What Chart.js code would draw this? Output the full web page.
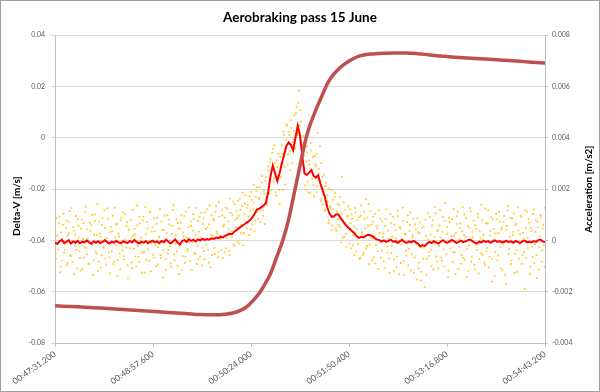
<!DOCTYPE html>
<html>
<head>
<meta charset="utf-8">
<script src="https://cdn.jsdelivr.net/npm/chart.js@4.4.1/dist/chart.umd.min.js"></script>
<style>
  html, body { margin: 0; padding: 0; background: #fff; }
  #wrap { width: 600px; height: 392px; }
</style>
</head>
<body>
<div id="wrap"><canvas id="chart" width="600" height="392"></canvas></div>
<script>
// Aerobraking pass 15 June - delta-V (left) and acceleration (right) vs time
// time axis in seconds after 00:47:31.200
const tickSeconds = [0, 86.4, 172.8, 259.2, 345.6, 432];
const tickLabels = ['00:47:31.200', '00:48:57.600', '00:50:24.000', '00:51:50.400', '00:53:16.800', '00:54:43.200'];

// Delta-V [m/s]
const dvTimes = [0, 20, 40, 60, 84, 100, 115, 128, 140, 150, 158, 164, 170, 176, 181, 186, 190, 195, 201, 206,
    210, 215, 219, 223, 229, 235, 240, 244, 249, 254, 260, 266, 272, 280, 290, 300, 310, 320, 330, 340,
    350, 360, 370, 380, 390, 400, 410, 420, 432];
const dvValues = [-0.0655, -0.0659, -0.0664, -0.0669, -0.0676, -0.0681, -0.0685, -0.0689, -0.0690, -0.0688,
    -0.0682, -0.0672, -0.0655, -0.0628, -0.0600, -0.0563, -0.0530, -0.0470, -0.0398, -0.0318,
    -0.0235, -0.0130, -0.0045, 0.0025, 0.0098, 0.0160, 0.0210, 0.0238, 0.0263, 0.0283,
    0.0301, 0.0315, 0.0323, 0.0327, 0.0330, 0.0331, 0.0331, 0.0328, 0.0323, 0.0319,
    0.0315, 0.0312, 0.0309, 0.0307, 0.0304, 0.0301, 0.0298, 0.0295, 0.0292];

// smoothed acceleration [m/s2], one value every 2 s
const smoothStep = 2;
const accSmooth = [
    -0.00008, -0.00014, -0.00003, 0.00002, -0.00010, -0.00006, 0.00001, -0.00012, -0.00004, -0.00009,
    -0.00002, -0.00011, -0.00005, -0.00008, 0.00000, -0.00007, -0.00013, -0.00004, -0.00009, -0.00003,
    -0.00010, -0.00006, 0.00001, -0.00007, -0.00012, -0.00005, -0.00009, -0.00002, -0.00008, -0.00011,
    -0.00004, -0.00007, -0.00010, -0.00003, -0.00008, 0.00002, -0.00006, -0.00012, -0.00005, -0.00009,
    -0.00003, -0.00010, -0.00006, -0.00001, -0.00008, -0.00004, -0.00011, -0.00002, -0.00007, 0.00003,
    -0.00005, -0.00012, -0.00004, 0.00004, -0.00008, -0.00016, -0.00003, 0.00002, -0.00006, 0.00005,
    -0.00002, 0.00003, -0.00004, 0.00004, 0.00000, 0.00006, 0.00002, 0.00005, 0.00003, 0.00008,
    0.00006, 0.00011, 0.00009, 0.00014, 0.00012, 0.00018, 0.00022, 0.00026, 0.00024, 0.00034,
    0.00040, 0.00047, 0.00054, 0.00060, 0.00066, 0.00072, 0.00079, 0.00090, 0.00104, 0.00120,
    0.00124, 0.00130, 0.00136, 0.00146, 0.00190, 0.00250, 0.00292, 0.00262, 0.00232, 0.00262,
    0.00300, 0.00335, 0.00368, 0.00382, 0.00372, 0.00352, 0.00400, 0.00447, 0.00410, 0.00330,
    0.00262, 0.00255, 0.00264, 0.00274, 0.00252, 0.00245, 0.00254, 0.00222, 0.00195, 0.00168,
    0.00130, 0.00105, 0.00092, 0.00094, 0.00102, 0.00100, 0.00086, 0.00074, 0.00062, 0.00052,
    0.00044, 0.00036, 0.00028, 0.00016, 0.00010, 0.00014, 0.00012, 0.00018, 0.00022, 0.00020,
    0.00016, 0.00008, 0.00003, 0.00001, -0.00004, 0.00000, -0.00006, -0.00002, 0.00003, -0.00005,
    -0.00003, -0.00009, -0.00004, 0.00002, -0.00006, -0.00010, -0.00004, -0.00008, -0.00002, -0.00007,
    -0.00013, -0.00024, -0.00018, -0.00022, -0.00012, -0.00006, -0.00010, -0.00003, -0.00008, -0.00012,
    -0.00005, 0.00001, -0.00006, -0.00009, -0.00003, 0.00002, -0.00004, -0.00010, -0.00006, -0.00001,
    -0.00007, -0.00004, 0.00001, 0.00003, -0.00003, -0.00009, -0.00012, -0.00005, -0.00008, -0.00002,
    -0.00006, -0.00003, -0.00009, -0.00004, 0.00000, -0.00006, -0.00003, -0.00008, -0.00005, -0.00002,
    -0.00007, -0.00004, -0.00009, -0.00003, -0.00006, -0.00010, -0.00004, -0.00001, -0.00007, -0.00005,
    -0.00008, -0.00003, -0.00006, 0.00001, 0.00003, -0.00004, -0.00007
];

// raw accelerometer samples [m/s2], one value every 1 s (whole seconds)
const rawStep = 1;
const accRaw = [
    0.00042, -0.00071, 0.00018, -0.00035, 0.00093, -0.00102, 0.00006, 0.00061, -0.00048, -0.00015,
    0.00077, -0.00088, 0.00029, 0.00115, -0.00061, -0.00004, 0.00052, -0.00131, 0.00023, -0.00037,
    0.00084, 0.00011, -0.00069, 0.00046, -0.00112, 0.00068, -0.00025, 0.00132, -0.00054, 0.00008,
    -0.00091, 0.00037, 0.00059, -0.00017, -0.00076, 0.00101, -0.00043, 0.00021, -0.00119, 0.00072,
    0.00014, -0.00058, 0.00087, -0.00029, 0.00049, -0.00094, 0.00125, -0.00009, -0.00066, 0.00033,
    -0.00041, 0.00096, -0.00083, 0.00012, 0.00064, -0.00138, 0.00027, -0.00052, 0.00079, -0.00019,
    0.00109, -0.00074, 0.00003, 0.00055, -0.00097, 0.00039, -0.00031, 0.00081, -0.00108, 0.00017,
    0.00045, -0.00062, 0.00136, -0.00022, -0.00085, 0.00066, 0.00009, -0.00047, 0.00092, -0.00126,
    0.00024, 0.00071, -0.00034, -0.00079, 0.00113, -0.00011, 0.00051, -0.00067, 0.00035, -0.00101,
    0.00088, -0.00026, 0.00015, -0.00057, 0.00074, -0.00145, 0.00041, 0.00002, -0.00072, 0.00098,
    -0.00038, 0.00062, -0.00089, 0.00026, 0.00119, -0.00055, -0.00013, 0.00083, -0.00099, 0.00047,
    -0.00021, 0.00069, -0.00116, 0.00031, 0.00094, -0.00064, 0.00011, -0.00042, 0.00128, -0.00081,
    0.00056, -0.00007, 0.00103, -0.00049, 0.00019, -0.00092, 0.00075, 0.00034, -0.00063, 0.00107,
    -0.00028, 0.00086, -0.00074, 0.00044, 0.00121, -0.00036, 0.00063, -0.00105, 0.00097, 0.00018,
    0.00078, -0.00052, 0.00134, 0.00027, -0.00044, 0.00092, 0.00006, 0.00118, -0.00069, 0.00061,
    0.00089, -0.00031, 0.00124, 0.00046, -0.00058, 0.00107, 0.00013, 0.00152, -0.00022, 0.00081,
    0.00115, -0.00004, 0.00096, 0.00163, 0.00028, 0.00134, -0.00019, 0.00102, 0.00175, 0.00047,
    0.00138, 0.00021, 0.00116, 0.00189, 0.00062, 0.00147, 0.00034, 0.00171, 0.00208, 0.00083,
    0.00162, 0.00071, 0.00226, 0.00118, 0.00195, 0.00064, 0.00247, 0.00139, 0.00273, 0.00182,
    0.00318, 0.00196, 0.00357, 0.00241, 0.00302, 0.00174, 0.00286, 0.00338, 0.00142, 0.00297,
    0.00371, 0.00196, 0.00412, 0.00218, 0.00448, 0.00296, 0.00423, 0.00347, 0.00469, 0.00302,
    0.00395, 0.00488, 0.00362, 0.00521, 0.00418, 0.00584, 0.00392, 0.00463, 0.00311, 0.00407,
    0.00331, 0.00198, 0.00367, 0.00229, 0.00312, 0.00184, 0.00351, 0.00274, 0.00216, 0.00329,
    0.00296, 0.00187, 0.00418, 0.00235, 0.00163, 0.00302, 0.00141, 0.00257, 0.00119, 0.00224,
    0.00176, 0.00068, 0.00203, 0.00127, 0.00041, 0.00158, 0.00092, 0.00186, 0.00037, 0.00143,
    0.00061, 0.00169, -0.00008, 0.00248, 0.00074, 0.00015, 0.00118, -0.00026, 0.00097, 0.00043,
    0.00121, -0.00031, 0.00084, 0.00019, -0.00057, 0.00108, 0.00046, -0.00014, 0.00091, -0.00068,
    0.00137, 0.00025, -0.00049, 0.00083, 0.00161, -0.00022, 0.00058, -0.00093, 0.00114, 0.00009,
    0.00072, -0.00066, 0.00104, -0.00018, 0.00047, -0.00111, 0.00029, 0.00085, -0.00039, 0.00013,
    -0.00082, 0.00056, 0.00121, -0.00047, 0.00008, -0.00126, 0.00067, -0.00021, 0.00093, -0.00073,
    0.00039, -0.00104, 0.00115, -0.00011, 0.00052, -0.00088, 0.00004, 0.00077, -0.00135, 0.00026,
    -0.00059, 0.00098, -0.00033, 0.00061, -0.00117, 0.00012, 0.00084, -0.00066, 0.00043, -0.00152,
    0.00031, -0.00087, 0.00069, -0.00123, -0.00028, 0.00054, -0.00181, 0.00017, -0.00071, 0.00106,
    -0.00044, 0.00023, -0.00099, 0.00078, -0.00015, 0.00131, -0.00062, 0.00037, -0.00108, 0.00058,
    0.00011, -0.00079, 0.00092, -0.00036, 0.00145, -0.00053, 0.00026, -0.00118, 0.00071, -0.00007,
    0.00083, -0.00046, 0.00019, -0.00131, 0.00064, 0.00112, -0.00024, 0.00049, -0.00091, 0.00035,
    -0.00068, 0.00101, 0.00014, -0.00142, 0.00057, -0.00019, 0.00126, -0.00083, 0.00032, 0.00076,
    -0.00113, 0.00045, -0.00037, 0.00089, -0.00072, 0.00008, 0.00139, -0.00056, 0.00021, -0.00097,
    0.00067, -0.00029, 0.00118, -0.00064, 0.00036, -0.00161, 0.00082, 0.00003, -0.00045, 0.00104,
    -0.00078, 0.00029, 0.00073, -0.00109, 0.00051, -0.00016, 0.00095, -0.00134, 0.00042, 0.00117,
    -0.00053, 0.00015, -0.00092, 0.00086, 0.00034, -0.00127, 0.00061, -0.00038, 0.00129, -0.00071,
    0.00024, 0.00092, -0.00058, 0.00007, -0.00189, 0.00048, 0.00113, -0.00031, 0.00069, -0.00102,
    0.00037, -0.00065, 0.00121, -0.00014, 0.00078, -0.00147, 0.00052, -0.00026, 0.00099, -0.00083,
    0.00046, -0.00019, 0.00127
];

// raw accelerometer samples [m/s2] taken between them, at half seconds
const rawHalfOffset = 0.5;
const accRawHalf = [
    -0.00053, 0.00088, -0.00012, 0.00067, -0.00124, 0.00031, -0.00079, 0.00104, -0.00036, 0.00049,
    -0.00097, 0.00019, 0.00073, -0.00058, 0.00126, -0.00084, 0.00038, -0.00021, 0.00095, -0.00109,
    0.00057, -0.00043, -0.00118, 0.00082, 0.00005, -0.00067, 0.00112, -0.00029, 0.00044, -0.00091,
    0.00068, -0.00014, 0.00099, -0.00135, 0.00022, 0.00076, -0.00052, 0.00141, -0.00083, 0.00027,
    -0.00106, 0.00061, -0.00024, 0.00117, -0.00071, 0.00009, 0.00085, -0.00047, -0.00129, 0.00053,
    0.00036, -0.00092, 0.00128, -0.00018, 0.00063, -0.00077, 0.00015, -0.00113, 0.00089, -0.00039,
    -0.00061, 0.00102, -0.00027, 0.00071, -0.00148, 0.00043, 0.00008, -0.00086, 0.00119, -0.00033,
    0.00024, -0.00101, 0.00058, -0.00064, 0.00093, -0.00012, -0.00125, 0.00079, -0.00045, 0.00131,
    -0.00076, 0.00047, -0.00003, 0.00108, -0.00121, 0.00034, -0.00056, 0.00087, -0.00019, 0.00065,
    -0.00094, 0.00012, 0.00122, -0.00068, 0.00041, -0.00037, 0.00097, -0.00115, 0.00029, -0.00051,
    0.00081, -0.00023, -0.00102, 0.00056, 0.00137, -0.00078, 0.00021, -0.00044, 0.00068, -0.00131,
    0.00045, 0.00099, -0.00061, 0.00016, -0.00088, 0.00113, -0.00034, 0.00052, -0.00007, 0.00074,
    -0.00116, 0.00038, 0.00084, -0.00053, 0.00127, -0.00021, -0.00072, 0.00093, 0.00011, -0.00098,
    0.00064, -0.00041, 0.00109, -0.00017, 0.00051, -0.00086, 0.00136, 0.00022, -0.00057, 0.00083,
    -0.00029, 0.00112, 0.00035, -0.00064, 0.00149, 0.00018, -0.00038, 0.00097, 0.00056, -0.00047,
    0.00128, 0.00009, 0.00074, -0.00041, 0.00163, 0.00037, 0.00098, -0.00016, 0.00141, 0.00052,
    0.00087, 0.00154, -0.00012, 0.00118, 0.00061, 0.00186, 0.00029, 0.00143, 0.00072, 0.00127,
    0.00094, 0.00172, 0.00043, 0.00158, 0.00121, 0.00217, 0.00076, 0.00193, 0.00109, 0.00166,
    0.00208, 0.00127, 0.00251, 0.00096, 0.00183, 0.00232, 0.00154, 0.00289, 0.00221, 0.00306,
    0.00264, 0.00341, 0.00229, 0.00372, 0.00188, 0.00311, 0.00253, 0.00197, 0.00326, 0.00248,
    0.00338, 0.00424, 0.00287, 0.00391, 0.00452, 0.00336, 0.00411, 0.00275, 0.00439, 0.00383,
    0.00427, 0.00356, 0.00496, 0.00411, 0.00537, 0.00448, 0.00509, 0.00372, 0.00294, 0.00368,
    0.00214, 0.00308, 0.00342, 0.00187, 0.00296, 0.00381, 0.00241, 0.00326, 0.00172, 0.00289,
    0.00338, 0.00212, 0.00279, 0.00367, 0.00154, 0.00248, 0.00193, 0.00116, 0.00211, 0.00138,
    0.00152, 0.00079, 0.00134, 0.00197, 0.00058, 0.00121, 0.00169, 0.00046, 0.00112, 0.00083,
    0.00137, 0.00052, 0.00104, 0.00011, 0.00149, 0.00068, 0.00026, 0.00093, 0.00132, -0.00012,
    0.00067, 0.00102, -0.00019, 0.00054, 0.00126, -0.00043, 0.00079, 0.00008, -0.00072, 0.00096,
    0.00031, -0.00058, 0.00112, 0.00047, -0.00031, 0.00089, 0.00142, -0.00016, 0.00061, -0.00077,
    0.00093, 0.00018, -0.00089, 0.00056, -0.00042, 0.00119, -0.00008, -0.00067, 0.00074, 0.00027,
    -0.00106, 0.00083, -0.00024, 0.00038, -0.00071, 0.00102, -0.00049, 0.00015, -0.00118, 0.00061,
    0.00008, -0.00063, 0.00094, -0.00132, 0.00046, -0.00017, 0.00128, -0.00081, 0.00023, -0.00041,
    0.00071, -0.00097, 0.00036, 0.00109, -0.00054, 0.00019, -0.00126, 0.00062, -0.00013, 0.00087,
    -0.00108, 0.00027, -0.00156, 0.00049, -0.00072, -0.00019, 0.00081, -0.00134, 0.00004, -0.00061,
    0.00092, -0.00036, 0.00058, -0.00114, 0.00013, 0.00106, -0.00083, 0.00041, -0.00022, 0.00119,
    -0.00067, 0.00034, -0.00101, 0.00076, -0.00009, 0.00053, -0.00143, 0.00088, -0.00031, 0.00017,
    -0.00084, 0.00122, -0.00047, 0.00029, 0.00094, -0.00112, 0.00006, 0.00067, -0.00058, 0.00131,
    0.00021, -0.00076, 0.00087, -0.00034, -0.00121, 0.00048, 0.00113, -0.00063, 0.00012, -0.00095,
    0.00059, -0.00018, 0.00104, -0.00129, 0.00037, -0.00051, 0.00078, 0.00003, -0.00087, 0.00124,
    -0.00042, 0.00066, -0.00105, 0.00019, 0.00091, -0.00073, 0.00045, -0.00138, 0.00027, 0.00082,
    -0.00059, 0.00111, -0.00026, 0.00043, -0.00117, 0.00072, -0.00008, -0.00169, 0.00056, 0.00135,
    -0.00034, 0.00087, -0.00079, 0.00021, 0.00106, -0.00052, 0.00064, -0.00123, 0.00038, -0.00015,
    0.00097, -0.00091, 0.00029, -0.00046, 0.00118, -0.00068, 0.00011, 0.00083, -0.00132, 0.00049,
    -0.00024, 0.00104, -0.00088, 0.00033, -0.00057, 0.00072, -0.00114, 0.00016, 0.00091, -0.00039,
    0.00061, -0.00102
];

Chart.defaults.font.family = 'Lato, "Open Sans", sans-serif';

const dvPoints = dvTimes.map((t, i) => ({ x: t, y: dvValues[i] }));
const smoothPoints = accSmooth.map((v, i) => ({ x: i * smoothStep, y: v }));
const rawPoints = accRaw.map((v, i) => ({ x: i * rawStep, y: v }))
    .concat(accRawHalf.map((v, i) => ({ x: i * rawStep + rawHalfOffset, y: v })));

// white background, axis titles and the outer frame
const framePlugin = {
    id: 'frame',
    beforeDraw(chart) {
        const c = chart.ctx;
        c.save();
        c.fillStyle = '#fff';
        c.fillRect(0, 0, chart.width, chart.height);
        c.restore();
    },
    afterDraw(chart) {
        const c = chart.ctx;
        const a = chart.chartArea;
        const mid = (a.top + a.bottom) / 2;
        c.save();
        c.fillStyle = '#000';
        c.font = 'bold 10px Lato, "Open Sans", sans-serif';
        c.textAlign = 'center';
        c.textBaseline = 'middle';
        c.save();
        c.translate(17, mid + 17);
        c.rotate(-Math.PI / 2);
        c.fillText('Delta-V [m/s]', 0, 0);
        c.restore();
        c.save();
        c.translate(589, mid);
        c.rotate(-Math.PI / 2);
        c.fillText('Acceleration [m/s2]', 0, 0);
        c.restore();
        c.strokeStyle = '#a0a0a0';
        c.lineWidth = 1;
        c.strokeRect(0.5, 0.5, chart.width - 1, chart.height - 1);
        c.restore();
    }
};

new Chart(document.getElementById('chart'), {
    type: 'scatter',
    data: {
        datasets: [{
            label: 'Delta-V',
            data: dvPoints,
            yAxisID: 'y',
            showLine: true,
            borderColor: '#C0504D',
            borderWidth: 3.5,
            pointRadius: 0,
            cubicInterpolationMode: 'monotone'
        }, {
            label: 'Acceleration (smoothed)',
            data: smoothPoints,
            yAxisID: 'y1',
            showLine: true,
            borderColor: '#FF0000',
            borderWidth: 2,
            pointRadius: 0
        }, {
            label: 'Acceleration',
            data: rawPoints,
            yAxisID: 'y1',
            showLine: false,
            pointStyle: 'rect',
            pointRadius: 1.3,
            borderWidth: 0,
            backgroundColor: 'rgba(255, 192, 0, 0.8)'
        }]
    },
    options: {
        responsive: false,
        animation: false,
        layout: { padding: 0 },
        plugins: {
            legend: { display: false },
            tooltip: { enabled: false },
            title: {
                display: true,
                text: 'Aerobraking pass 15 June',
                color: '#000',
                font: { size: 13.5, weight: 'bold' },
                padding: { top: 10, bottom: 9 }
            }
        },
        scales: {
            x: {
                type: 'linear',
                min: 0,
                max: 432,
                afterBuildTicks: axis => { axis.ticks = tickSeconds.map(v => ({ value: v })); },
                afterFit: scale => { scale.height = 49; },
                grid: { drawOnChartArea: false, tickLength: 4, color: '#BFBFBF' },
                border: { color: '#BFBFBF' },
                ticks: {
                    autoSkip: false,
                    minRotation: 35,
                    maxRotation: 35,
                    padding: 2,
                    color: '#595959',
                    font: { size: 8.5 },
                    callback: (v, i) => tickLabels[i]
                }
            },
            y: {
                position: 'left',
                min: -0.08,
                max: 0.04,
                afterFit: scale => { scale.width = 55; },
                grid: { color: '#D9D9D9', tickLength: 4 },
                border: { color: '#BFBFBF' },
                ticks: {
                    stepSize: 0.02,
                    padding: 6,
                    color: '#595959',
                    font: { size: 7 },
                    callback: v => String(Number(v.toFixed(3)))
                }
            },
            y1: {
                position: 'right',
                min: -0.004,
                max: 0.008,
                afterFit: scale => { scale.width = 55; },
                grid: { drawOnChartArea: false, tickLength: 3, color: '#BFBFBF' },
                border: { color: '#BFBFBF' },
                ticks: {
                    stepSize: 0.002,
                    padding: 4,
                    color: '#595959',
                    font: { size: 7 },
                    callback: v => String(Number(v.toFixed(4)))
                }
            }
        }
    },
    plugins: [framePlugin]
});
</script>
</body>
</html>
